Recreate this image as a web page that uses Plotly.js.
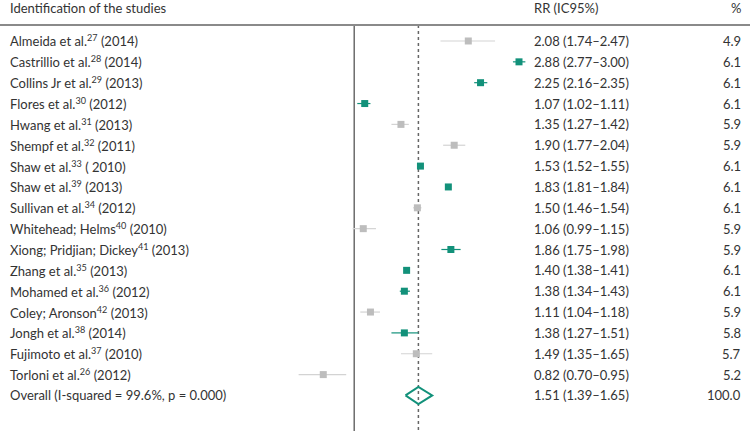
<!DOCTYPE html>
<html>
<head>
<meta charset="utf-8">
<script src="https://cdn.plot.ly/plotly-3.0.1.min.js"></script>
<style>html,body{margin:0;padding:0;background:#fff;}#chart{width:750px;height:431px;}</style>
</head>
<body>
<div id="chart"></div>
<script>
// ---- data ----
const studies = [
  "Almeida et al.<sup>27</sup> (2014)",
  "Castrillio et al.<sup>28</sup> (2014)",
  "Collins Jr et al.<sup>29</sup> (2013)",
  "Flores et al.<sup>30</sup> (2012)",
  "Hwang et al.<sup>31</sup> (2013)",
  "Shempf et al.<sup>32</sup> (2011)",
  "Shaw et al.<sup>33</sup> ( 2010)",
  "Shaw et al.<sup>39</sup> (2013)",
  "Sullivan et al.<sup>34</sup> (2012)",
  "Whitehead; Helms<sup>40</sup> (2010)",
  "Xiong; Pridjian; Dickey<sup>41</sup> (2013)",
  "Zhang et al.<sup>35</sup> (2013)",
  "Mohamed et al.<sup>36</sup> (2012)",
  "Coley; Aronson<sup>42</sup> (2013)",
  "Jongh et al.<sup>38</sup> (2014)",
  "Fujimoto et al.<sup>37</sup> (2010)",
  "Torloni et al.<sup>26</sup> (2012)"
];
const rr    = [2.08, 2.88, 2.25, 1.07, 1.35, 1.90, 1.53, 1.83, 1.50, 1.06, 1.86, 1.40, 1.38, 1.11, 1.38, 1.49, 0.82];
const lower = [1.74, 2.77, 2.16, 1.02, 1.27, 1.77, 1.52, 1.81, 1.46, 0.99, 1.75, 1.38, 1.34, 1.04, 1.27, 1.35, 0.70];
const upper = [2.47, 3.00, 2.35, 1.11, 1.42, 2.04, 1.55, 1.84, 1.54, 1.15, 1.98, 1.41, 1.43, 1.18, 1.51, 1.65, 0.95];
const weight = ["4.9","6.1","6.1","6.1","5.9","5.9","6.1","6.1","6.1","5.9","5.9","6.1","6.1","5.9","5.8","5.7","5.2"];
const group = ["g","t","t","t","g","g","t","t","g","g","t","t","t","g","t","g","g"];
const overallLabel = "Overall (I-squared = 99.6%, p = 0.000)";
const overall = {rr: 1.51, lo: 1.39, hi: 1.65, w: "100.0"};
const headers = ["Identification of the studies", "RR (IC95%)", "%"];

// ---- styles ----
const TEAL = "#12917a", GRAY = "#bdbdbd", GRAYLINE = "#d3d3d3", TXT = "#333333";
const FONT = "Lato, 'Open Sans', sans-serif";
const W = 750;
const rowTop = -0.583, lineY = 0.2326, yBottom = 19.705, yTop = -0.966;

const rows = studies.map((_, i) => i + 1);
const overallRow = studies.length + 1;

function fmt(v){ return v.toFixed(2); }

const traces = [];
// reference lines
traces.push({x:[1,1], y:[lineY, yBottom], mode:"lines", line:{color:"#555", width:1.3}, hoverinfo:"skip", showlegend:false});
traces.push({x:[overall.rr, overall.rr], y:[lineY, yBottom], mode:"lines", line:{color:"#666", width:1.5, dash:"dot"}, hoverinfo:"skip", showlegend:false});

for (const g of ["g","t"]) {
  const idx = group.map((v,i)=> v===g ? i : -1).filter(i=>i>=0);
  traces.push({
    x: idx.map(i=>rr[i]),
    y: idx.map(i=>rows[i]),
    mode: "markers",
    type: "scatter",
    marker: {symbol:"square", size:7, color: g==="t"?TEAL:GRAY},
    error_x: {type:"data", symmetric:false,
      array: idx.map(i=>upper[i]-rr[i]),
      arrayminus: idx.map(i=>rr[i]-lower[i]),
      width:0, thickness:1.2, color: g==="t"?TEAL:GRAYLINE},
    hoverinfo:"skip", showlegend:false
  });
}
// overall diamond
const h = 0.41;
traces.push({
  x:[overall.lo, overall.rr, overall.hi, overall.rr, overall.lo],
  y:[overallRow, overallRow-h, overallRow, overallRow+h, overallRow],
  mode:"lines", line:{color:TEAL, width:2}, fill:"none",
  hoverinfo:"skip", showlegend:false
});

const ann = [];
const f = {family:FONT, size:13, color:TXT};
function add(x, y, text, anchor){
  ann.push({xref:"paper", yref:"y", x:x, y:y, text:text, xanchor:anchor, yanchor:"middle", showarrow:false, font:f});
}
add(8/W, rowTop, headers[0], "left");
add(532/W, rowTop, headers[1], "left");
add(743/W, rowTop, headers[2], "right");
studies.forEach((s,i)=>{
  add(8/W, rows[i], s, "left");
  add(532/W, rows[i], fmt(rr[i]) + " (" + fmt(lower[i]) + "–" + fmt(upper[i]) + ")", "left");
  add(743/W, rows[i], weight[i], "right");
});
add(8/W, overallRow, overallLabel, "left");
add(532/W, overallRow, fmt(overall.rr) + " (" + fmt(overall.lo) + "–" + fmt(overall.hi) + ")", "left");
add(743/W, overallRow, overall.w, "right");

const layout = {
  width: 750, height: 431,
  margin: {l:0, r:0, t:0, b:0},
  paper_bgcolor:"#fff", plot_bgcolor:"#fff",
  xaxis: {type:"log", range:[-0.9873, 1.1033], showgrid:false, zeroline:false, showticklabels:false, ticks:"", showline:false, fixedrange:true},
  yaxis: {range:[yBottom, yTop], showgrid:false, zeroline:false, showticklabels:false, ticks:"", showline:false, fixedrange:true},
  shapes: [{type:"line", xref:"paper", yref:"y", x0:0, x1:1, y0:lineY, y1:lineY, line:{color:"#8a8a8a", width:2}}],
  annotations: ann
};

Plotly.newPlot("chart", traces, layout, {displayModeBar:false, staticPlot:true});
</script>
</body>
</html>
